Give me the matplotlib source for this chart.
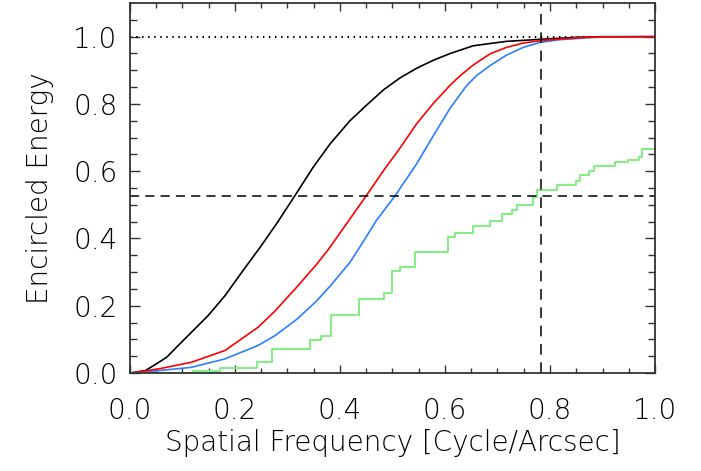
import numpy as np
import matplotlib
matplotlib.use("Agg")
import matplotlib.pyplot as plt

# curves (spatial frequency, encircled energy)
x_black = [0.0, 0.029, 0.048, 0.070, 0.092, 0.117, 0.149, 0.181, 0.215, 0.248, 0.281,
           0.314, 0.349, 0.381, 0.419, 0.451, 0.483, 0.514, 0.546, 0.578, 0.610, 0.654,
           0.717, 0.781, 0.85, 0.9, 1.0]
y_black = [0.0, 0.007, 0.025, 0.047, 0.082, 0.121, 0.171, 0.230, 0.304, 0.374, 0.448,
           0.527, 0.612, 0.681, 0.750, 0.797, 0.842, 0.877, 0.906, 0.930, 0.950, 0.973,
           0.986, 0.992, 0.998, 1.0, 1.0]

x_red = [0.0, 0.054, 0.117, 0.181, 0.244, 0.276, 0.318, 0.356, 0.381, 0.403, 0.450,
         0.483, 0.514, 0.546, 0.578, 0.610, 0.629, 0.654, 0.686, 0.717, 0.749, 0.781,
         0.819, 0.87, 1.0]
y_red = [0.0, 0.012, 0.032, 0.067, 0.136, 0.184, 0.256, 0.324, 0.374, 0.423, 0.527,
         0.602, 0.668, 0.741, 0.802, 0.856, 0.884, 0.916, 0.949, 0.968, 0.981, 0.988,
         0.993, 0.998, 1.0]

x_blue = [0.0, 0.054, 0.117, 0.181, 0.244, 0.276, 0.318, 0.354, 0.381, 0.419, 0.444,
          0.470, 0.505, 0.546, 0.578, 0.610, 0.641, 0.660, 0.686, 0.717, 0.749, 0.781,
          0.819, 0.895, 1.0]
y_blue = [0.0, 0.007, 0.017, 0.042, 0.082, 0.111, 0.160, 0.212, 0.258, 0.329, 0.390,
          0.455, 0.527, 0.622, 0.706, 0.788, 0.854, 0.884, 0.914, 0.945, 0.968, 0.983,
          0.991, 0.999, 1.0]

# green histogram-like steps (left edge of each step)
x_green = [0.0, 0.121, 0.171, 0.241, 0.270, 0.343, 0.364, 0.382, 0.436, 0.484, 0.500,
           0.514, 0.542, 0.606, 0.619, 0.654, 0.686, 0.708, 0.727, 0.738, 0.767, 0.776,
           0.813, 0.849, 0.857, 0.875, 0.883, 0.924, 0.948, 0.970, 0.976, 1.0]
y_green = [0.0, 0.007, 0.014, 0.032, 0.072, 0.097, 0.110, 0.173, 0.219, 0.238, 0.303,
           0.316, 0.359, 0.404, 0.415, 0.438, 0.453, 0.474, 0.484, 0.501, 0.522, 0.544,
           0.560, 0.570, 0.590, 0.601, 0.615, 0.628, 0.634, 0.643, 0.665, 0.665]

x_cut = 0.782
y_cut = 0.527

plt.rcParams['font.family'] = ['DejaVu Sans']
plt.rcParams['font.size'] = 20

fig = plt.figure(figsize=(7.01, 4.71), dpi=100)
ax = fig.add_axes([0.1854, 0.208, 0.749, 0.7856])

ax.axhline(1.0, color='black', lw=1.5, linestyle=(0, (0.7, 2.2)))
ax.plot(x_black, y_black, color='black', lw=1.2)
ax.plot(x_blue, y_blue, color='#2a7fff', lw=1.2)
ax.plot(x_red, y_red, color='#ff0000', lw=1.2)
ax.plot(x_green, y_green, color='#80f080', lw=1.4, drawstyle='steps-post')
ax.axhline(y_cut, color='black', lw=1.1, linestyle=(0, (6, 4)))
ax.axvline(x_cut, color='black', lw=1.1, linestyle=(0, (7, 5)))

ax.set_xlim(0, 1.0)
ax.set_ylim(0, 1.1)
ax.set_xticks(np.arange(0, 1.01, 0.2))
ax.set_xticks(np.arange(0, 1.01, 0.05), minor=True)
ax.set_yticks(np.arange(0, 1.01, 0.2))
ax.set_yticks(np.arange(0, 1.1, 0.05), minor=True)
ax.xaxis.set_major_formatter(matplotlib.ticker.FormatStrFormatter('%.1f'))
ax.yaxis.set_major_formatter(matplotlib.ticker.FormatStrFormatter('%.1f'))

ax.tick_params(which='both', direction='in', top=True, right=True, width=1.0, color='#333333')
ax.tick_params(axis='x', which='major', length=6, pad=17)
ax.tick_params(axis='x', which='minor', length=3.6)
ax.tick_params(axis='y', which='major', length=7.5, pad=9)
ax.tick_params(axis='y', which='minor', length=5)
for s in ax.spines.values():
    s.set_linewidth(1.3)
    s.set_color('#333333')

for lab in ax.get_xticklabels() + ax.get_yticklabels():
    lab.set_fontweight('light')

ax.set_xlabel('Spatial Frequency [Cycle/Arcsec]', fontweight='light', labelpad=3)
ax.set_ylabel('Encircled Energy', fontweight='light', labelpad=14)

fig.savefig('out.png', dpi=100)
